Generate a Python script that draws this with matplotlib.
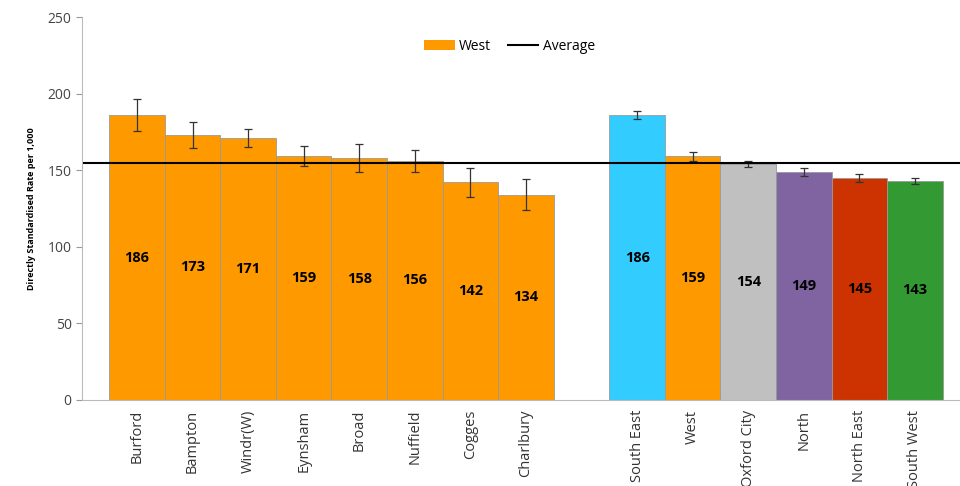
import matplotlib.pyplot as plt
from matplotlib.patches import Patch
from matplotlib.lines import Line2D

plt.rcParams['font.family'] = ['Open Sans', 'DejaVu Sans']

areas = ['Burford', 'Bampton', 'Windr(W)', 'Eynsham', 'Broad', 'Nuffield',
         'Cogges', 'Charlbury']
area_vals = [186, 173, 171, 159, 158, 156, 142, 134]
area_err = [10.5, 8.5, 6, 6.5, 9, 7, 9.5, 10]

localities = ['South East', 'West', 'Oxford City', 'North', 'North East',
              'South West']
loc_vals = [186, 159, 154, 149, 145, 143]
loc_err = [2.5, 3, 2, 2.7, 2.7, 2]
loc_colors = ['#33CCFF', '#FF9900', '#C0C0C0', '#8064A2', '#CC3300', '#339933']

average = 154.5

labels = areas + [''] + localities
vals = area_vals + [0] + loc_vals
errs = area_err + [0] + loc_err
colors = ['#FF9900'] * len(areas) + ['none'] + loc_colors
xs = list(range(len(labels)))

fig = plt.figure(figsize=(9.6, 4.86), dpi=100)
ax = fig.add_axes([0.0854, 0.177, 0.9146, 0.788])

for x, v, e, c in zip(xs, vals, errs, colors):
    if v == 0:
        continue
    ax.bar(x, v, width=1.0, color=c, edgecolor='#9a9a9a', linewidth=0.6)
    ax.errorbar(x, v, yerr=e, fmt='none', ecolor='#333333', elinewidth=0.9,
                capsize=3, capthick=0.9)
    ax.text(x, v / 2, str(v), ha='center', va='center', fontsize=10.5,
            fontweight='bold', color='black')

ax.axhline(average, color='black', linewidth=1.5)

ax.set_xlim(-0.99, 14.81)
ax.set_ylim(0, 250)
ax.set_yticks([0, 50, 100, 150, 200, 250])
ax.tick_params(axis='y', labelsize=10, labelcolor='#444444', length=4,
               color='#999999')
ax.set_ylabel('Directly Standardised Rate per 1,000', fontsize=6.5,
              fontweight='bold', labelpad=8)

ticks = [i for i, l in enumerate(labels) if l]
ax.set_xticks(ticks)
ax.set_xticklabels([labels[i] for i in ticks], rotation=90, fontsize=10.5,
                   color='#333333', va='top')
ax.tick_params(axis='x', length=0, pad=7)
ax.set_xticks([4, 9, 14], minor=True)
ax.tick_params(axis='x', which='minor', length=5, color='#999999')

for s in ['top', 'right']:
    ax.spines[s].set_visible(False)
for s in ['left', 'bottom']:
    ax.spines[s].set_color('#bbbbbb')

handles = [Patch(facecolor='#FF9900', edgecolor='none', label='West'),
           Line2D([0], [0], color='black', linewidth=1.5, label='Average')]
ax.legend(handles=handles, loc='center', bbox_to_anchor=(0.487, 0.924),
          ncol=2, frameon=False, fontsize=10, handlelength=2.2,
          handleheight=0.7, columnspacing=1.2, handletextpad=0.3)

fig.text(0.125, 1.012, 'Source: OCC data and ONS', fontsize=11,
         color='#555555', va='center')

fig.savefig('out.png', dpi=100)
